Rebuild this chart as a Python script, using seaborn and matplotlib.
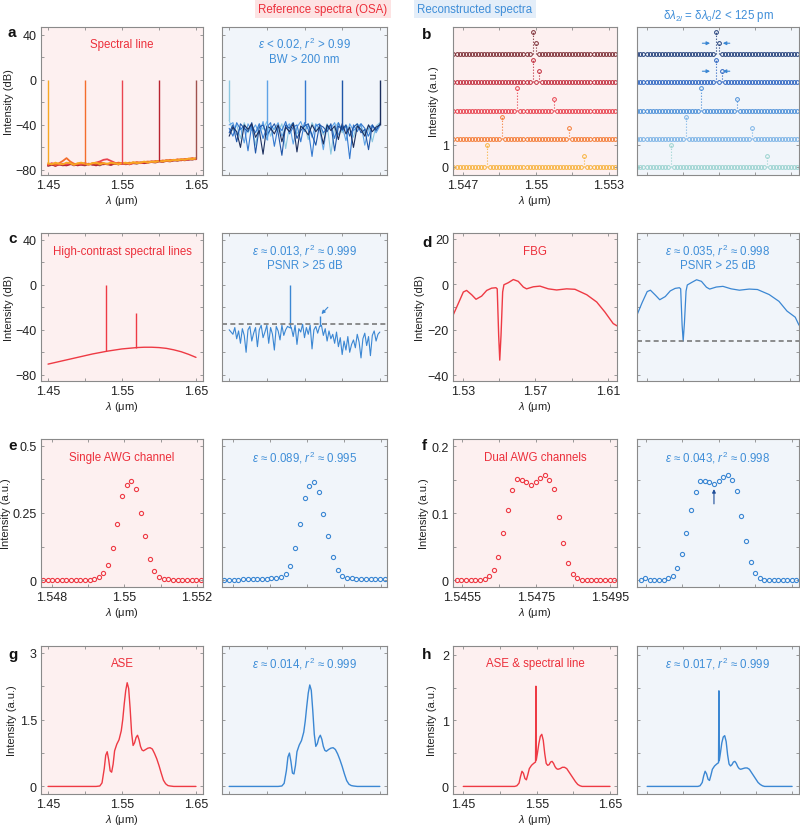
import numpy as np
import matplotlib
matplotlib.use("Agg")
import matplotlib.pyplot as plt
from matplotlib.ticker import FixedLocator
import seaborn as sns

# ---------------- data ----------------
# a: single spectral lines at five wavelengths (dB), noise floors per trace
a_x = np.linspace(1.45, 1.65, 41)
a_lines = [1.45, 1.50, 1.55, 1.60, 1.65]
a_line_idx = [0, 10, 20, 30, 40]
a_ref_floor = [
    [-74, -75, -73.5, -74.5, -75, -73.5, -74, -75.5, -74, -73.5, -74.5, -75, -74, -73.5, -75, -74, -74.5, -73.5, -74, -75, -74,
     -73.5, -74.5, -73, -74, -73.5, -72.5, -73.5, -72.5, -73, -72, -72.5, -71.5, -72, -71, -71.5, -70.5, -71, -70, -70.5, -69.5],
    [-75, -74.5, -75.5, -74, -72, -69.5, -72.5, -74.5, -75, -74, -74.5, -75.5, -74, -74.5, -73.5, -74, -75, -74, -74.5, -73.5, -74,
     -74.5, -73.5, -74, -73, -73.5, -73, -72.5, -73, -72, -72.5, -71.5, -72, -71, -71.5, -70.5, -71, -70.5, -70, -69.5, -70],
    [-75.5, -74, -75, -75.5, -74.5, -75, -74, -75.5, -74.5, -75, -74, -75, -74.5, -73.5, -72.5, -71, -70.5, -72, -73.5, -75, -74.5,
     -74, -75, -74, -73.5, -74, -73, -73.5, -72.5, -73, -72, -72.5, -71.5, -72, -71, -71.5, -70.5, -71, -70.5, -70, -70.5],
    [-76, -75, -76.5, -75, -75.5, -76, -75, -74.5, -76, -75, -75.5, -74.5, -75, -76, -74.5, -75, -74.5, -75.5, -74, -75, -74.5,
     -74, -75, -73.5, -74, -73.5, -74, -73, -72.5, -73, -72, -72.5, -71.5, -72, -71.5, -71, -71.5, -70.5, -71, -70, -70.5],
    [-76.5, -75.5, -76, -75, -76, -75.5, -74.5, -76, -75, -75.5, -76, -74.5, -75.5, -75, -76, -74.5, -75, -75.5, -74.5, -75, -74,
     -75, -74.5, -74, -74.5, -73.5, -74, -73.5, -73, -73.5, -72.5, -73, -72, -72.5, -71.5, -72, -71, -71.5, -70.5, -71, -70],
]
a_rec_floor = [
    [-36, -45, -40, -52, -38, -47, -41, -58, -39, -44, -37, -50, -42, -46, -39, -61, -41, -38, -48, -43, -40,
     -53, -38, -45, -41, -49, -39, -66, -42, -38, -47, -40, -44, -51, -39, -42, -48, -40, -55, -41, -38],
    [-40, -38, -49, -42, -56, -39, -45, -40, -48, -37, -53, -41, -44, -38, -50, -43, -39, -57, -42, -37, -46,
     -40, -51, -39, -44, -62, -40, -43, -38, -49, -41, -54, -39, -45, -42, -39, -58, -43, -40, -47, -41],
    [-43, -50, -38, -44, -41, -63, -40, -47, -39, -52, -42, -38, -59, -41, -45, -37, -48, -42, -40, -55, -38,
     -44, -68, -41, -39, -47, -43, -40, -52, -38, -45, -41, -70, -40, -46, -39, -43, -50, -41, -44, -40],
    [-47, -40, -55, -39, -43, -46, -38, -65, -42, -40, -49, -44, -39, -47, -67, -40, -43, -38, -52, -45, -41,
     -39, -49, -58, -40, -42, -46, -39, -63, -41, -44, -40, -50, -42, -39, -47, -44, -62, -40, -45, -39],
    [-50, -42, -46, -60, -40, -44, -39, -51, -45, -66, -41, -43, -48, -40, -55, -42, -46, -39, -64, -41, -44,
     -49, -40, -46, -42, -57, -40, -45, -41, -53, -39, -48, -42, -60, -41, -44, -50, -40, -46, -42, -40],
]

# b: two-line resolution, 5 stacked spectra (a.u.)
b_x = np.linspace(1.54661, 1.55324, 54)
b_offset = 1.27
b_peak_idx = [(11, 43), (16, 38), (21, 33), (26, 28), (26, 27)]
b_ref_h = [(1.0, 0.48), (1.0, 0.48), (1.02, 0.52), (1.02, 0.51), (1.0, 0.49)]
b_rec_h = [(1.0, 0.48), (1.0, 0.50), (1.02, 0.51), (1.0, 0.49), (1.0, 0.49)]

# c: high-contrast spectral lines (dB)
c_ref_x = [1.45, 1.47, 1.49, 1.51, 1.53, 1.55, 1.57, 1.58, 1.59, 1.60, 1.61, 1.62, 1.63, 1.64, 1.65]
c_ref = [-70.5, -67.5, -64.5, -61.5, -59, -57, -55.8, -55.5, -55.5, -55.8, -56.5, -57.8, -59.5, -61.8, -64.5]
c_ref_lines = [1.529, 1.5695]
c_ref_line_base = [-59, -55.8]
c_ref_line_top = [0, -25]
c_rec_x = np.linspace(1.45, 1.65, 81)
c_rec = [-40, -42, -44, -38, -48, -41, -52, -39, -45, -60,
         -40, -37, -50, -43, -38, -55, -40, -36, -47, -42,
         -36, -52, -38, -44, -58, -37, -41, -49, -36, -45,
         -40, -37, -38, -38, -46, -36, -53, -39, -42, -35,
         -47, -38, -44, -36, -57, -40, -37, -43, -37, -36,
         -45, -39, -50, -41, -48, -44, -52, -42, -55, -47,
         -62, -50, -58, -46, -60, -53, -49, -56, -44, -51,
         -65, -48, -43, -54, -46, -63, -45, -41, -50, -44, -42]
c_rec_lines = [1.531, 1.5705]
c_rec_line_base = [-38, -37]
c_rec_line_top = [0, -28]
c_floor = -35

# d: FBG (dB)
d_x = [1.5245, 1.5274, 1.5302, 1.532, 1.5348, 1.5372, 1.5403, 1.5431, 1.5458, 1.5482, 1.5489, 1.5497, 1.5503, 1.551,
       1.5519, 1.5526, 1.555, 1.5578, 1.5605, 1.5633, 1.5651, 1.5688, 1.5725, 1.5771, 1.5817, 1.5872, 1.5918, 1.5983,
       1.6038, 1.6083, 1.6129, 1.6150]
d_ref = [-13.7, -8.5, -3.4, -2.7, -4.6, -6.6, -5.2, -2.7, -1.7, -1.5, -2, -22.5, -33.4, -22.5, -3.4, -0.2, 0.7, 2.1,
         1.3, -1.2, -2, -1.1, -0.8, -2, -2.5, -2, -2.2, -4.6, -7.8, -12.2, -17.3, -18.3]
d_rec = [-13.5, -8, -3.2, -2.6, -4.8, -6.8, -5.4, -2.9, -1.8, -1.5, -2, -18, -25, -17, -3, -0.3, 0.8, 2.0, 1.3, -1.3,
         -2.1, -1.2, -0.9, -2.0, -2.6, -2.1, -2.3, -4.5, -7.5, -11.8, -14.5, -18]
d_floor = -25

# e: single AWG channel (a.u.)
e_x = np.linspace(1.54776, 1.55211, 35)
e_ref = [0, 0, 0, 0, 0, 0, 0, 0, 0, 0, 0, 0.003, 0.01, 0.025, 0.055, 0.12, 0.21, 0.315, 0.355, 0.37, 0.34, 0.25,
         0.165, 0.08, 0.035, 0.01, 0.005, 0.003, 0, 0, 0, 0, 0, 0, 0]
e_rec = [0.0, 0.001, 0.001, 0.001, 0.002, 0.004, 0.002, 0.002, 0.003, 0.004, 0.006, 0.009, 0.01, 0.023, 0.054, 0.119,
         0.21, 0.305, 0.35, 0.364, 0.328, 0.247, 0.163, 0.087, 0.038, 0.016, 0.009, 0.006, 0.005, 0.004, 0.002, 0.002,
         0.004, 0.003, 0.002]

# f: dual AWG channels (a.u.)
f_x = np.linspace(1.54536, 1.54962, 35)
f_ref = [0, 0, 0, 0, 0, 0, 0.002, 0.006, 0.016, 0.035, 0.07, 0.105, 0.134, 0.151, 0.149, 0.146, 0.142, 0.147, 0.153,
         0.157, 0.149, 0.136, 0.095, 0.056, 0.026, 0.01, 0.004, 0.001, 0, 0, 0, 0, 0, 0, 0]
f_rec = [0.001, 0.003, 0, 0, 0, 0, 0.003, 0.007, 0.018, 0.04, 0.071, 0.105, 0.132, 0.148, 0.148, 0.146, 0.143, 0.148,
         0.154, 0.157, 0.149, 0.133, 0.096, 0.058, 0.028, 0.011, 0.004, 0, 0, 0, 0, 0, 0, 0, 0]
f_arrow_idx = 16

# g: ASE (a.u.)
g_x = [1.45, 1.50, 1.515, 1.520, 1.523, 1.526, 1.528, 1.530, 1.532, 1.534, 1.536, 1.538, 1.540, 1.543, 1.546, 1.549,
       1.551, 1.553, 1.555, 1.557, 1.559, 1.561, 1.563, 1.565, 1.567, 1.569, 1.571, 1.573, 1.575, 1.577, 1.579, 1.582,
       1.585, 1.588, 1.591, 1.594, 1.597, 1.600, 1.603, 1.606, 1.609, 1.612, 1.615, 1.62, 1.65]
g_ref = [0, 0, 0, 0.01, 0.08, 0.4, 0.7, 0.78, 0.6, 0.35, 0.32, 0.5, 0.8, 0.95, 1.05, 1.25, 1.5, 1.85, 2.15, 2.33,
         2.2, 1.75, 1.2, 0.92, 0.98, 1.1, 1.15, 1.05, 0.9, 0.82, 0.8, 0.83, 0.86, 0.87, 0.84, 0.74, 0.62, 0.47, 0.3,
         0.14, 0.06, 0.02, 0.01, 0, 0]
g_rec = [0, 0, 0, 0.01, 0.07, 0.36, 0.66, 0.75, 0.56, 0.3, 0.28, 0.47, 0.78, 0.93, 1.03, 1.22, 1.47, 1.8, 2.1, 2.28,
         2.16, 1.7, 1.17, 0.9, 0.96, 1.09, 1.15, 1.06, 0.9, 0.81, 0.79, 0.83, 0.86, 0.87, 0.83, 0.73, 0.6, 0.45, 0.28,
         0.13, 0.05, 0.02, 0.01, 0, 0]

# h: ASE + spectral line (a.u.)
h_x = [1.45, 1.50, 1.515, 1.520, 1.523, 1.526, 1.528, 1.530, 1.532, 1.534, 1.536, 1.538, 1.540, 1.543, 1.546, 1.5485,
       1.549, 1.5495, 1.551, 1.553, 1.555, 1.557, 1.559, 1.561, 1.563, 1.565, 1.567, 1.569, 1.571, 1.573, 1.575, 1.577,
       1.579, 1.582, 1.585, 1.588, 1.591, 1.594, 1.597, 1.600, 1.603, 1.606, 1.609, 1.612, 1.615, 1.62, 1.65]
h_ref = [0, 0, 0, 0, 0.01, 0.05, 0.15, 0.23, 0.2, 0.12, 0.1, 0.18, 0.27, 0.32, 0.35, 0.37, 1.52, 0.4, 0.5, 0.65,
         0.76, 0.79, 0.7, 0.5, 0.35, 0.32, 0.33, 0.37, 0.38, 0.35, 0.3, 0.27, 0.26, 0.27, 0.29, 0.29, 0.27, 0.22, 0.17,
         0.12, 0.07, 0.03, 0.01, 0, 0, 0, 0]
h_rec = [0, 0, 0, 0, 0.01, 0.06, 0.16, 0.23, 0.19, 0.11, 0.09, 0.17, 0.26, 0.31, 0.34, 0.36, 1.45, 0.39, 0.5, 0.66,
         0.75, 0.77, 0.68, 0.48, 0.34, 0.31, 0.33, 0.37, 0.38, 0.35, 0.3, 0.27, 0.26, 0.27, 0.28, 0.28, 0.26, 0.21, 0.16,
         0.11, 0.06, 0.03, 0.01, 0, 0, 0, 0]

# ---------------- styling ----------------
RED_TXT = "#ec2f3b"
BLUE_TXT = "#3f8ed8"
PINK_BG = "#fdf0f0"
BLUE_BG = "#f1f5fa"
REF_C = "#ee3a44"
REC_C = "#3b87d3"
TICK_C = "#8a8a8a"
a_ref_colors = ["#f7a823", "#f46d2c", "#ea4450", "#b8232f", "#a0524f"]
a_rec_colors = ["#8cc8e0", "#5fa3e6", "#3479cf", "#1f56a8", "#1c2f5e"]
b_ref_colors = ["#f7b23b", "#f47a32", "#e8404c", "#c02a3a", "#7a2a32"]
b_rec_colors = ["#9ad3cf", "#7ab2e6", "#4a8ed8", "#2a62c0", "#1f3c78"]

sns.set_theme(style="ticks")
plt.rcParams["font.family"] = ["Liberation Sans", "DejaVu Sans"]
plt.rcParams["mathtext.fontset"] = "custom"
plt.rcParams["mathtext.rm"] = "Liberation Sans"
plt.rcParams["mathtext.it"] = "Liberation Sans:italic"

fig = plt.figure(figsize=(8, 8.28), dpi=100)

COL_X = [41, 222, 453, 637]
COL_W = [162, 165, 164, 162]
ROW_Y = [28, 234, 440, 647]
AX_H = 148


def add_ax(col, row):
    return fig.add_axes([COL_X[col] / 800, 1 - (ROW_Y[row] + AX_H) / 828, COL_W[col] / 800, AX_H / 828])


def curve(ax, x, y, color, lw=0.9):
    sns.lineplot(x=np.asarray(x, float), y=np.asarray(y, float), ax=ax, color=color, lw=lw,
                 estimator=None, sort=False, errorbar=None)


def dots(ax, x, y, color, ms=3.0, mew=0.8):
    sns.lineplot(x=np.asarray(x, float), y=np.asarray(y, float), ax=ax, color=color, linestyle="none",
                 marker="o", ms=ms, mfc="none", mec=color, mew=mew, estimator=None, sort=False, errorbar=None)


def finish(ax, bg, xlim, ylim, xt, xtl, xm, yt, ytl, ym, ylabel=None, ylab_x=-0.16):
    ax.set_facecolor(bg)
    ax.set_xlim(*xlim)
    ax.set_ylim(*ylim)
    ax.set_xticks(xt)
    ax.set_yticks(yt)
    ax.xaxis.set_minor_locator(FixedLocator(xm))
    ax.yaxis.set_minor_locator(FixedLocator(ym))
    if ylabel:
        ax.set_xticklabels(xtl)
        ax.set_yticklabels(ytl)
        ax.set_xlabel(r"$\lambda$ (μm)", fontsize=8, color="#222222")
        ax.set_ylabel(ylabel, fontsize=8, color="#222222")
        ax.xaxis.set_label_coords(0.5, -0.125)
        ax.yaxis.set_label_coords(ylab_x, 0.5)
    else:
        ax.set_xticklabels([])
        ax.set_yticklabels([])
        ax.set_xlabel("")
        ax.set_ylabel("")
    ax.tick_params(which="both", direction="in", top=True, right=True, length=2.5, width=0.6,
                   color=TICK_C, labelsize=9, pad=3, labelcolor="#222222")
    for sp in ax.spines.values():
        sp.set_visible(True)
        sp.set_color(TICK_C)
        sp.set_linewidth(0.8)


def ref_title(ax, s, y=0.885):
    ax.text(0.5, y, s, transform=ax.transAxes, ha="center", va="center", color=RED_TXT, fontsize=8.3)


def rec_title(ax, s, y=0.885):
    ax.text(0.5, y, s, transform=ax.transAxes, ha="center", va="center", color=BLUE_TXT, fontsize=8.3,
            linespacing=1.15)


def arrow(ax, tail, head, color=REC_C):
    ax.annotate("", xy=head, xytext=tail,
                arrowprops=dict(arrowstyle="-|>", color=color, lw=0.8, mutation_scale=5, shrinkA=0, shrinkB=0))


# common tick sets
X_WIDE = ([1.45, 1.55, 1.65], ["1.45", "1.55", "1.65"], [1.50, 1.60])
Y_DB = ([-80, -40, 0, 40], ["−80", "−40", "0", "40"], [-60, -20, 20])

# ---- a ----
ax = add_ax(0, 0)
for k in range(4, -1, -1):
    curve(ax, a_x, a_ref_floor[k], a_ref_colors[k], lw=1.3)
for k in range(5):
    ax.vlines(a_lines[k], a_ref_floor[k][a_line_idx[k]], 0, color=a_ref_colors[k], lw=1.0)
ref_title(ax, "Spectral line")
finish(ax, PINK_BG, (1.4405, 1.6595), (-84.5, 47), *X_WIDE, *Y_DB, ylabel="Intensity (dB)", ylab_x=-0.167)

ax = add_ax(1, 0)
for k in range(5):
    curve(ax, a_x, a_rec_floor[k], a_rec_colors[k], lw=0.8)
for k in range(5):
    ax.vlines(a_lines[k], a_rec_floor[k][a_line_idx[k]], 0, color=a_rec_colors[k], lw=1.0)
rec_title(ax, "$\\varepsilon$ < 0.02, $r^2$ > 0.99\nBW > 200 nm", y=0.845)
finish(ax, BLUE_BG, (1.4405, 1.6595), (-84.5, 47), *X_WIDE, *Y_DB)

# ---- b ----
for col, heights, colors in [(2, b_ref_h, b_ref_colors), (3, b_rec_h, b_rec_colors)]:
    ax = add_ax(col, 0)
    for r in range(5):
        base = r * b_offset
        y = np.full(len(b_x), base)
        for idx, hh in zip(b_peak_idx[r], heights[r]):
            y[idx] = base + hh
            ax.vlines(b_x[idx], base, base + hh, color=colors[r], lw=0.8, linestyles=":")
        dots(ax, b_x, y, colors[r], ms=2.7, mew=0.7)
    if col == 2:
        finish(ax, PINK_BG, (1.54659, 1.55333), (-0.36, 6.3), [1.547, 1.55, 1.553], ["1.547", "1.55", "1.553"],
               [1.5485, 1.5515], [0, 1], ["0", "1"], [], ylabel="Intensity (a.u.)", ylab_x=-0.085)
    else:
        for r, hh in [(4, 0.49), (3, 0.5)]:
            yy = r * b_offset + hh
            arrow(ax, (1.54931, yy), (1.54963, yy))
            arrow(ax, (1.55045, yy), (1.55016, yy))
        finish(ax, BLUE_BG, (1.54659, 1.55333), (-0.36, 6.3), [1.547, 1.55, 1.553], [], [1.5485, 1.5515],
               [0, 1], [], [])

# ---- c ----
ax = add_ax(0, 1)
curve(ax, c_ref_x, c_ref, REF_C, lw=1.0)
ax.vlines(c_ref_lines, c_ref_line_base, c_ref_line_top, color=REF_C, lw=1.0)
ref_title(ax, "High-contrast spectral lines", y=0.88)
finish(ax, PINK_BG, (1.4405, 1.6595), (-85.5, 46), *X_WIDE, *Y_DB, ylabel="Intensity (dB)", ylab_x=-0.167)

ax = add_ax(1, 1)
curve(ax, c_rec_x, c_rec, REC_C, lw=0.8)
ax.vlines(c_rec_lines, c_rec_line_base, c_rec_line_top, color=REC_C, lw=1.0)
ax.axhline(c_floor, color="#7a7a7a", lw=1.2, ls=(0, (3, 2)))
arrow(ax, (1.581, -20), (1.5725, -26))
rec_title(ax, "$\\varepsilon$ ≈ 0.013, $r^2$ ≈ 0.999\nPSNR > 25 dB", y=0.84)
finish(ax, BLUE_BG, (1.4405, 1.6595), (-85.5, 46), *X_WIDE, *Y_DB)

# ---- d ----
X_D = ([1.53, 1.57, 1.61], ["1.53", "1.57", "1.61"], [1.55, 1.59])
Y_D = ([-40, -20, 0, 20], ["−40", "−20", "0", "20"], [-30, -10, 10])
ax = add_ax(2, 1)
curve(ax, d_x, d_ref, REF_C, lw=1.0)
ref_title(ax, "FBG", y=0.88)
finish(ax, PINK_BG, (1.5245, 1.615), (-42.6, 22.6), *X_D, *Y_D, ylabel="Intensity (dB)", ylab_x=-0.173)

ax = add_ax(3, 1)
curve(ax, d_x, d_rec, REC_C, lw=0.9)
ax.axhline(d_floor, color="#7a7a7a", lw=1.2, ls=(0, (3, 2)))
rec_title(ax, "$\\varepsilon$ ≈ 0.035, $r^2$ ≈ 0.998\nPSNR > 25 dB", y=0.84)
finish(ax, BLUE_BG, (1.5245, 1.615), (-42.6, 22.6), *X_D, *Y_D)

# ---- e ----
X_E = ([1.548, 1.55, 1.552], ["1.548", "1.55", "1.552"], [1.549, 1.551])
Y_E = ([0, 0.25, 0.5], ["0", "0.25", "0.5"], [0.125, 0.375])
ax = add_ax(0, 2)
dots(ax, e_x, e_ref, REF_C)
ref_title(ax, "Single AWG channel", y=0.88)
finish(ax, PINK_BG, (1.5477, 1.55217), (-0.026, 0.526), *X_E, *Y_E, ylabel="Intensity (a.u.)", ylab_x=-0.185)

ax = add_ax(1, 2)
dots(ax, e_x, e_rec, REC_C)
rec_title(ax, "$\\varepsilon$ ≈ 0.089, $r^2$ ≈ 0.995", y=0.88)
finish(ax, BLUE_BG, (1.5477, 1.55217), (-0.026, 0.526), *X_E, *Y_E)

# ---- f ----
X_F = ([1.5455, 1.5475, 1.5495], ["1.5455", "1.5475", "1.5495"], [1.5465, 1.5485])
Y_F = ([0, 0.1, 0.2], ["0", "0.1", "0.2"], [0.05, 0.15])
ax = add_ax(2, 2)
dots(ax, f_x, f_ref, REF_C)
ref_title(ax, "Dual AWG channels", y=0.88)
finish(ax, PINK_BG, (1.54526, 1.54969), (-0.0099, 0.2107), *X_F, *Y_F, ylabel="Intensity (a.u.)", ylab_x=-0.146)

ax = add_ax(3, 2)
dots(ax, f_x, f_rec, REC_C)
arrow(ax, (f_x[f_arrow_idx], 0.114), (f_x[f_arrow_idx], 0.136), color="#1f4e9a")
rec_title(ax, "$\\varepsilon$ ≈ 0.043, $r^2$ ≈ 0.998", y=0.88)
finish(ax, BLUE_BG, (1.54526, 1.54969), (-0.0099, 0.2107), *X_F, *Y_F)

# ---- g ----
Y_G = ([0, 1.5, 3], ["0", "1.5", "3"], [0.75, 2.25])
ax = add_ax(0, 3)
curve(ax, g_x, g_ref, REF_C, lw=1.0)
ref_title(ax, "ASE", y=0.887)
finish(ax, PINK_BG, (1.4405, 1.6595), (-0.17, 3.155), *X_WIDE, *Y_G, ylabel="Intensity (a.u.)", ylab_x=-0.15)

ax = add_ax(1, 3)
curve(ax, g_x, g_rec, REC_C, lw=1.0)
rec_title(ax, "$\\varepsilon$ ≈ 0.014, $r^2$ ≈ 0.999", y=0.887)
finish(ax, BLUE_BG, (1.4405, 1.6595), (-0.17, 3.155), *X_WIDE, *Y_G)

# ---- h ----
Y_H = ([0, 1, 2], ["0", "1", "2"], [0.5, 1.5])
ax = add_ax(2, 3)
curve(ax, h_x, h_ref, REF_C, lw=1.0)
ref_title(ax, "ASE & spectral line", y=0.887)
finish(ax, PINK_BG, (1.436, 1.6595), (-0.115, 2.13), *X_WIDE, *Y_H, ylabel="Intensity (a.u.)", ylab_x=-0.098)

ax = add_ax(3, 3)
curve(ax, h_x, h_rec, REC_C, lw=1.0)
rec_title(ax, "$\\varepsilon$ ≈ 0.017, $r^2$ ≈ 0.999", y=0.887)
finish(ax, BLUE_BG, (1.436, 1.6595), (-0.115, 2.13), *X_WIDE, *Y_H)

# ---- header texts and panel letters ----
fig.text(323 / 800, 1 - 10 / 828, "Reference spectra (OSA)", ha="center", va="center", color=RED_TXT,
         fontsize=8.3, bbox=dict(boxstyle="square,pad=0.3", fc="#fde3e3", ec="none"))
fig.text(475 / 800, 1 - 10 / 828, "Reconstructed spectra", ha="center", va="center", color=BLUE_TXT,
         fontsize=8.3, bbox=dict(boxstyle="square,pad=0.3", fc="#e4eef9", ec="none"))
fig.text(718 / 800, 1 - 16 / 828, "δ$\\lambda_{2l}$ = δ$\\lambda_{0}$/2 < 125 pm", ha="center", va="center",
         color=BLUE_TXT, fontsize=8.3)

for letter, (px, py) in zip("abcdefgh", [(8, 33), (422, 35), (8, 239), (422, 243),
                                          (8, 446), (422, 446), (8, 655), (422, 655)]):
    fig.text(px / 800, 1 - py / 828, letter, fontsize=11, fontweight="bold", va="center", ha="left",
             color="#111111")

fig.savefig("out.png", dpi=100)
